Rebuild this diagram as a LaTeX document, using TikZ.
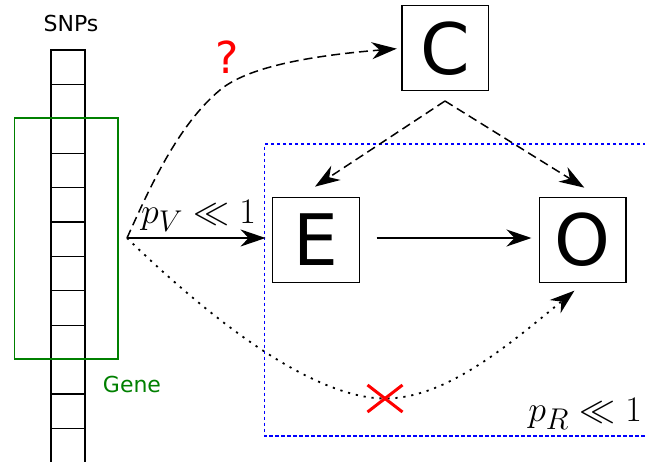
\documentclass[tikz,border=0pt]{standalone}
\usepackage{fontspec}
\setmainfont{DejaVu Sans}
\usetikzlibrary{arrows.meta}
\definecolor{genegreen}{RGB}{0,128,0}
\tikzset{
  bigbox/.style={draw=black, line width=1.3pt, minimum width=86.6pt, minimum height=85pt, inner sep=0pt, font=\fontsize{71}{71}\selectfont},
  snpcell/.style={draw=black, line width=1.3pt},
  tip/.style={-{Stealth[length=25pt,width=17pt,inset=8pt]}},
  solidarrow/.style={tip, line width=1.6pt},
  dasharrow/.style={tip, line width=1.5pt, dash pattern=on 9pt off 5pt},
  dotarrow/.style={tip, line width=1.8pt, dash pattern=on 2.2pt off 5.8pt},
  region/.style={draw=blue, line width=1.5pt, dash pattern=on 3.5pt off 2.5pt},
  bigmath/.style={font=\fontsize{24.88}{30}\selectfont, inner sep=0pt},
}
\begin{document}
\begin{tikzpicture}[x=1pt,y=-1pt]
\clip (0,0) rectangle (645,461);
\fill[white] (0,0) rectangle (645,461);
% SNP column
\foreach \i in {0,...,11} {
  \draw[snpcell] (51,{50+\i*34.4}) rectangle (85,{50+(\i+1)*34.4});
}
\node[font=\fontsize{22}{22}\selectfont] (snps) at (71,23.5) {SNPs};
% gene
\draw[genegreen, line width=1.3pt] (14.7,118) rectangle (118,359);
\node[genegreen, font=\fontsize{22}{22}\selectfont] (gene) at (132,384.5) {Gene};
% region
\draw[region] (700,144) -- (264.5,144) -- (264.5,436) -- (700,436);
% nodes
\node[bigbox] (C) at (445.2,48.3) {C};
\node[bigbox] (E) at (316,239.8) {E};
\node[bigbox] (O) at (582.7,239.8) {O};
\coordinate (s) at (127,238);
\coordinate (cb) at (445,101);
\coordinate (qm) at (220,90);
\coordinate (xm) at (385,398.5);
% arrows
\draw[solidarrow, shorten >=6.5pt] (s) -- (s -| E.west);
\draw[solidarrow, shorten <=16.7pt, shorten >=7.3pt] (s -| E.east) -- (s -| O.west);
\draw[dasharrow] (cb) -- ([xshift=-1pt,yshift=10pt]E.north);
\draw[dasharrow] (cb) -- ([xshift=1.6pt,yshift=9pt]O.north);
\draw[dasharrow, shorten >=4.5pt] (s) .. controls (150,187) and (178,125) .. (qm)
  .. controls (247,67.5) and (307,56) .. (C.west);
\draw[dotarrow] (s) .. controls (235,343) and (325,398.5) .. (xm)
  .. controls (445,398.5) and (505.7,347.6) .. ([xshift=35.7pt,yshift=-7.7pt]O.south west);
% labels
\node[red, font=\fontsize{44}{44}\selectfont, inner sep=0pt] (q) at (227,57.5) {?};
\node[bigmath, anchor=base west] (pv) at (141,223) {\scalebox{1.447}{$p_V \ll 1$}};
\node[bigmath, anchor=base east] (pr) at (642,421) {\scalebox{1.447}{$p_R \ll 1$}};
% cross
\node[inner sep=0pt, minimum size=0pt] (cross) at (xm) {};
\draw[red, line width=3pt] (cross) ++(-17.5,-13.5) -- ++(35,27);
\draw[red, line width=3pt] (cross) ++(-17.5,13.5) -- ++(35,-27);
\end{tikzpicture}
\end{document}
